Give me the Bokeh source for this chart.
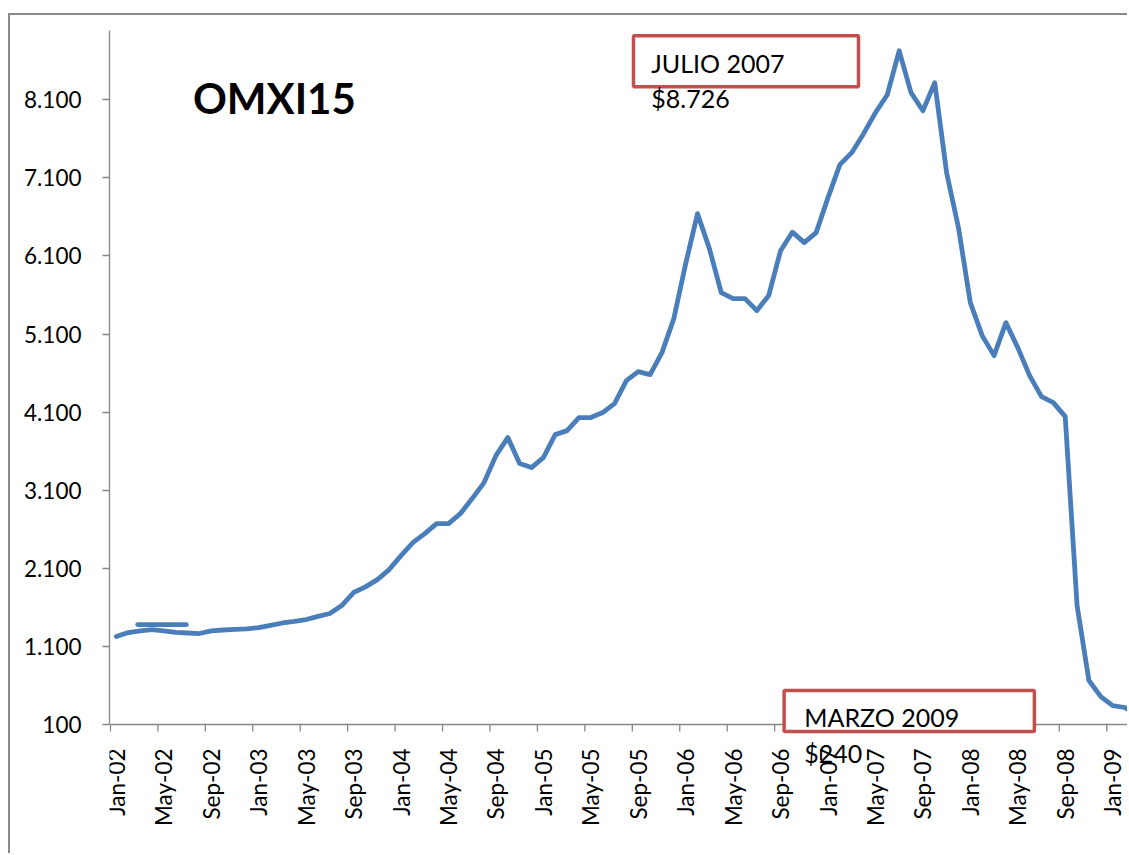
import math
from bokeh.plotting import figure
from bokeh.models import Range1d, FixedTicker, BoxAnnotation, Label
from bokeh.core.properties import value
from bokeh.embed import file_html
from bokeh.resources import INLINE

# ---- data ----
month_names = ["Jan", "Feb", "Mar", "Apr", "May", "Jun",
               "Jul", "Aug", "Sep", "Oct", "Nov", "Dec"]
years = ["02", "03", "04", "05", "06", "07", "08", "09"]
months = [f"{m}-{y}" for y in years for m in month_names][:87]   # Jan-02 .. Mar-09

omxi15 = [
    1226, 1278, 1300, 1316, 1300, 1280, 1272, 1265, 1300, 1310, 1318, 1325,   # 2002
    1342, 1370, 1400, 1420, 1444, 1485, 1521, 1623, 1790, 1862, 1955, 2084,   # 2003
    2263, 2430, 2545, 2673, 2673, 2800, 2993, 3198, 3543, 3774, 3441, 3390,   # 2004
    3518, 3812, 3863, 4030, 4030, 4094, 4209, 4503, 4618, 4580, 4862, 5297,   # 2005
    6001, 6641, 6193, 5630, 5553, 5553, 5400, 5592, 6167, 6404, 6270, 6398,   # 2006
    6846, 7268, 7422, 7665, 7934, 8164, 8726, 8190, 7959, 8318, 7166, 6462,   # 2007
    5502, 5079, 4823, 5246, 4926, 4567, 4298, 4222, 4042, 1623, 663, 458,     # 2008
    343, 318, 240,                                                            # 2009
]

# short stray stroke drawn near the start of the series
stroke_x = [2.3, 6.4]
stroke_y = [1380, 1380]

y_ticks = [100, 1100, 2100, 3100, 4100, 5100, 6100, 7100, 8100]
y_tick_labels = ["100", "1.100", "2.100", "3.100", "4.100",
                 "5.100", "6.100", "7.100", "8.100"]

peak_label = "JULIO 2007"
low_label = "MARZO 2009"

FONT = "Lato"
AXIS_COLOR = "#868686"
LINE_COLOR = "#4A7EBB"
BOX_COLOR = "#C0504D"

Y_MIN, Y_TOP, Y_BOTTOM = 100, 8986, -1577
PX = 825 / (Y_TOP - Y_BOTTOM)          # pixels per data unit (vertical)

x = [i + 0.5 for i in range(len(omxi15))]

p = figure(width=1119, height=840, output_backend="svg", toolbar_location=None,
           x_axis_location=None,
           x_range=Range1d(-0.08, 85.92), y_range=Range1d(Y_BOTTOM, Y_TOP),
           min_border_left=99, min_border_right=0, min_border_top=15,
           min_border_bottom=0)
p.styles = {"border-top": "2px solid #8a8a8a", "border-left": "2px solid #8a8a8a",
            "margin-top": "13px", "margin-left": "8px"}
p.outline_line_color = None
p.grid.visible = False
p.background_fill_color = "white"
p.border_fill_color = "white"

# ---- category (x) axis: line, boundary ticks, centred rotated labels ----
label_idx = list(range(0, len(months), 4))
tick_len = 7 / PX
p.segment(x0=[0], y0=[Y_MIN], x1=[85.92], y1=[Y_MIN],
          line_color=AXIS_COLOR, line_width=1.3)
p.segment(x0=label_idx, y0=[Y_MIN] * len(label_idx),
          x1=label_idx, y1=[Y_MIN - tick_len] * len(label_idx),
          line_color=AXIS_COLOR, line_width=1.3)
p.text(x=[i + 0.5 for i in label_idx], y=[Y_MIN - 24 / PX] * len(label_idx),
       text=[months[i] for i in label_idx], angle=math.pi / 2,
       text_align="right", text_baseline="middle",
       text_font=value(FONT), text_font_size="22.5px", text_color="black")

# ---- series ----
p.line(x, omxi15, line_color=LINE_COLOR, line_width=4.8,
       line_join="round", line_cap="round")
p.line(stroke_x, stroke_y, line_color=LINE_COLOR, line_width=4.8, line_cap="round")

# ---- value (y) axis ----
ya = p.yaxis[0]
ya.bounds = (Y_MIN, Y_TOP)
ya.ticker = FixedTicker(ticks=y_ticks, minor_ticks=[])
ya.major_label_overrides = {t: l for t, l in zip(y_ticks, y_tick_labels)}
ya.axis_line_color = AXIS_COLOR
ya.axis_line_width = 1.3
ya.major_tick_line_color = AXIS_COLOR
ya.major_tick_line_width = 1.3
ya.major_tick_out = 7
ya.major_tick_in = 0
ya.minor_tick_line_color = None
ya.major_label_standoff = 21
ya.major_label_text_font = FONT
ya.major_label_text_font_size = "22.5px"
ya.major_label_text_color = "black"

# ---- title ----
p.add_layout(Label(x=6.95, y=7934 + 15 / PX, text="OMXI15", text_font=FONT,
                   text_font_size="42px", text_font_style="bold",
                   text_color="black", text_baseline="alphabetic"))

# ---- annotation boxes ----
peak_i = omxi15.index(max(omxi15))
low_i = len(omxi15) - 1
lift = 10 / PX


def fmt(v):
    return "$" + f"{v:,}".replace(",", ".")


p.add_layout(BoxAnnotation(left=44.1, right=63.07, top=8919, bottom=8266,
                           fill_color="white", fill_alpha=1.0,
                           line_color=BOX_COLOR, line_alpha=1.0, line_width=3.5))
p.add_layout(Label(x=45.6, y=8446 + lift, text=peak_label, text_font=FONT,
                   text_font_size="25px", text_color="black",
                   text_baseline="alphabetic"))
p.add_layout(Label(x=45.6, y=7998 + lift, text=fmt(omxi15[peak_i]), text_font=FONT,
                   text_font_size="25px", text_color="black",
                   text_baseline="alphabetic"))

p.add_layout(BoxAnnotation(left=56.8, right=77.9, top=535, bottom=10,
                           fill_color="white", fill_alpha=1.0,
                           line_color=BOX_COLOR, line_alpha=1.0, line_width=3.5))
p.add_layout(Label(x=58.5, y=62 + lift, text=low_label, text_font=FONT,
                   text_font_size="25px", text_color="black",
                   text_baseline="alphabetic"))
p.add_layout(Label(x=58.5, y=-399 + lift, text=fmt(omxi15[low_i]), text_font=FONT,
                   text_font_size="25px", text_color="black",
                   text_baseline="alphabetic"))

open("out.html", "w").write(file_html(p, INLINE))
